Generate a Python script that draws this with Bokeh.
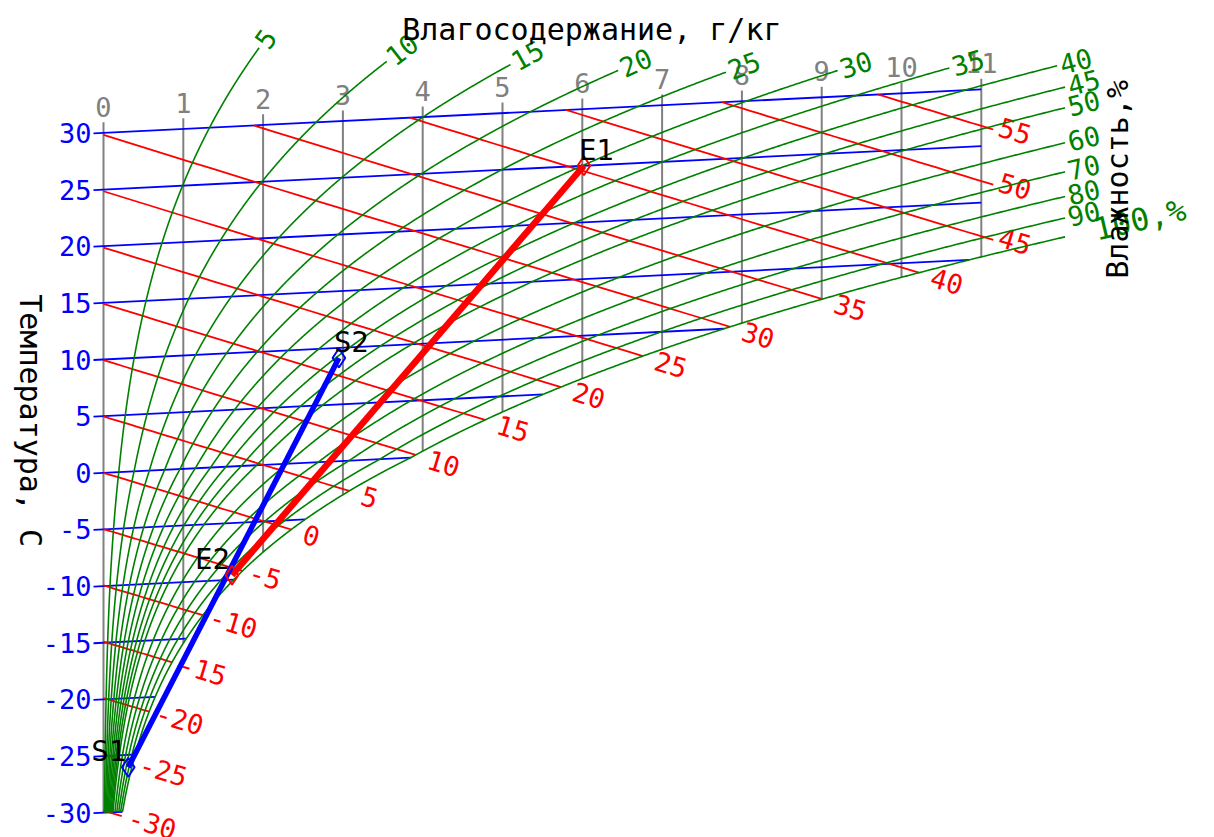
import math
import numpy as np
from bokeh.plotting import figure
from bokeh.models import Label
from bokeh.embed import file_html
from bokeh.resources import INLINE
from bokeh.core.properties import value

# ---------------- data ----------------
d_ticks = [0, 1, 2, 3, 4, 5, 6, 7, 8, 9, 10, 11]                 # moisture content, g/kg
t_values = [-30, -25, -20, -15, -10, -5, 0, 5, 10, 15, 20, 25, 30]  # isotherms, C
i_values = [-30, -25, -20, -15, -10, -5, 0, 5, 10, 15, 20, 25, 30,
            35, 40, 45, 50, 55]                                    # isenthalps, kJ/kg
rh_values = [5, 10, 15, 20, 25, 30, 35, 40, 45, 50, 60, 70, 80, 90, 100]  # relative humidity, %
rh_labels = ["5", "10", "15", "20", "25", "30", "35", "40", "45", "50",
             "60", "70", "80", "90", "100,%"]
rh_d_end = [1.95, 3.55, 5.1, 6.45, 7.8, 9.2, 10.6, 11.95, 12.05, 12.05,
            12.05, 12.05, 12.05, 12.05, 12.05]                     # where each RH curve stops, g/kg
pt_names = ["S1", "S2", "E1", "E2"]
pt_t = [-26.1, 9.1, 25.0, -9.6]
pt_d = [0.31, 2.95, 6.02, 1.61]
P_kpa = 99.3          # barometric pressure
T_MIN, T_MAX = -30, 30
D_MAX = 11

# ---------------- chart geometry / style ----------------
SKEW = 0.349          # chart ordinate = t + SKEW * d
SX, SY = 79.8, 11.33  # px per g/kg, px per chart unit
W, H = 1214, 837
RED_D_MAX = 11.15
FONT = value("DejaVu Sans Mono")
BLUE, RED, GREEN, GRAY = "#0000ff", "#ff0000", "#008000", "#808080"


def psat(t):
    t = np.asarray(t, dtype=float)
    return np.where(t >= 0,
                    611.2 * np.exp(17.62 * t / (243.12 + t)),
                    611.2 * np.exp(22.46 * t / (272.62 + t)))


def dsat(t, phi=1.0):
    ps = phi * psat(t)
    return 622.0 * ps / (P_kpa * 1000.0 - ps)


def enth(t, d):
    return 1.006 * t + d * (2.501 + 0.00186 * t)


def t_from_i(i, d):
    return (i - 2.501 * d) / (1.006 + 0.00186 * d)


def chartY(t, d):
    return t + SKEW * d


def solve(f, lo, hi, n=90):
    flo = f(lo)
    for _ in range(n):
        mid = 0.5 * (lo + hi)
        fm = f(mid)
        if (fm > 0) == (flo > 0):
            lo, flo = mid, fm
        else:
            hi = mid
    return 0.5 * (lo + hi)


def screen_angle(d1, y1, d2, y2):
    return math.atan2(SY * (y2 - y1), SX * (d2 - d1))


def shifted(d, y, ang, along, perp=0.0):
    """move a point by screen pixels along / perpendicular (up-left) to a direction"""
    dx = along * math.cos(ang) - perp * math.sin(ang)
    dy = along * math.sin(ang) + perp * math.cos(ang)
    return d + dx / SX, y + dy / SY


x0 = -103.0 / SX
y1 = 472.3 / SY
p = figure(width=W, height=H, x_range=(x0, x0 + W / SX), y_range=(y1 - H / SY, y1),
           output_backend="svg", toolbar_location=None, min_border=0,
           x_axis_location=None, y_axis_location=None, background_fill_color="white")
p.grid.visible = False
p.outline_line_color = None

# ---- gray moisture-content lines ----
gxs, gys, glx, gly, gll = [], [], [], [], []
for d in d_ticks:
    if d == 0:
        yb = T_MIN
    else:
        ts = solve(lambda t: float(dsat(t)) - d, -60, 60)
        yb = chartY(ts, d)
    yt = T_MAX + SKEW * d + 0.94
    gxs.append([d, d]); gys.append([yb, yt])
    glx.append(d); gly.append(yt + 15.5 / SY); gll.append(str(d))
p.multi_line(gxs, gys, line_color=GRAY, line_width=2)
p.text(glx, gly, text=gll, text_color=GRAY, text_font=FONT, text_font_size="27px",
       text_align="center", text_baseline="middle")

# ---- blue isotherms ----
bxs, bys = [], []
for t in t_values:
    de = min(float(dsat(t)), D_MAX)
    ds = [-10.0 / SX, de]
    bxs.append(ds); bys.append([chartY(t, x) for x in ds])
p.multi_line(bxs, bys, line_color=BLUE, line_width=1.8)
p.text([-12.0 / SX] * len(t_values), [float(t) for t in t_values], text=[str(t) for t in t_values],
       text_color=BLUE, text_font=FONT, text_font_size="27px",
       text_align="right", text_baseline="middle")

# ---- red isenthalps ----
rxs, rys, rlx, rly, rla, rll = [], [], [], [], [], []
for i in i_values:
    if i <= enth(T_MAX, 0):
        d_start = 0.0
    else:
        d_start = (i - 1.006 * T_MAX) / (2.501 + 0.00186 * T_MAX)
    tsat_i = solve(lambda t: enth(t, float(dsat(t))) - i, -60, 60)
    d_sat_i = float(dsat(tsat_i))
    d_end = min(d_sat_i, RED_D_MAX)
    ds = np.linspace(d_start, d_end, 30)
    ys = [chartY(t_from_i(i, x), x) for x in ds]
    rxs.append(list(ds)); rys.append(ys)
    ang = screen_angle(ds[-2], ys[-2], ds[-1], ys[-1])
    if d_sat_i > RED_D_MAX:
        lx, ly = shifted(ds[-1], ys[-1], ang, 5.0, 5.0)
    elif i < 0:
        lx, ly = shifted(ds[-1], ys[-1], ang, 7.0, 1.5)
    else:
        lx, ly = shifted(ds[-1], ys[-1], ang, 13.0, 0.0)
    rlx.append(lx); rly.append(ly)
    rla.append(ang); rll.append(str(i))
p.multi_line(rxs, rys, line_color=RED, line_width=1.8)
p.text(rlx, rly, text=rll, angle=rla, text_color=RED, text_font=FONT, text_font_size="27px",
       text_align="left", text_baseline="middle")

# ---- green relative humidity curves ----
tt = np.linspace(T_MIN, 50, 1601)
hxs, hys, hlx, hly, hla = [], [], [], [], []
for k, (phi, dend) in enumerate(zip(rh_values, rh_d_end)):
    f = phi / 100.0
    dd = dsat(tt, f)
    m = dd < dend
    te = solve(lambda t: float(dsat(t, f)) - dend, T_MIN, 60)
    ts = np.append(tt[m], te)
    ds = np.append(dd[m], dend)
    ys = ts + SKEW * ds
    hxs.append(list(ds)); hys.append(list(ys))
    tb = te - 0.6
    db = float(dsat(tb, f))
    ang = screen_angle(db, chartY(tb, db), dend, chartY(te, dend))
    gap = 30.0 if k == len(rh_values) - 1 else 3.0
    lx, ly = shifted(dend, chartY(te, dend), ang, gap, 0.0)
    hlx.append(lx); hly.append(ly); hla.append(ang)
p.multi_line(hxs, hys, line_color=GREEN, line_width=1.6)
p.text(hlx[:-1], hly[:-1], text=rh_labels[:-1], angle=hla[:-1], text_color=GREEN, text_font=FONT,
       text_font_size="27px", text_align="left", text_baseline="middle")
p.text(hlx[-1:], hly[-1:], text=rh_labels[-1:], angle=hla[-1:], text_color=GREEN, text_font=FONT,
       text_font_size="31px", text_align="left", text_baseline="middle")

# ---- processes ----
pY = [chartY(t, d) for t, d in zip(pt_t, pt_d)]
iS1, iS2, iE1, iE2 = (pt_names.index(n) for n in ("S1", "S2", "E1", "E2"))
p.line([pt_d[iE2], pt_d[iE1]], [pY[iE2], pY[iE1]], line_color=RED, line_width=6.5)
p.line([pt_d[iS1], pt_d[iS2]], [pY[iS1], pY[iS2]], line_color=BLUE, line_width=5.5)
p.scatter([pt_d[iE1], pt_d[iE2]], [pY[iE1], pY[iE2]], marker="diamond", size=19,
          fill_color=None, line_color=RED, line_width=2)
p.scatter([pt_d[iS1], pt_d[iS2]], [pY[iS1], pY[iS2]], marker="diamond", size=19,
          fill_color=None, line_color=BLUE, line_width=2)
left_pts = [iE1, iS2]
right_pts = [iE2, iS1]
p.text([pt_d[k] - 5.0 / SX for k in left_pts], [pY[k] + 16.0 / SY for k in left_pts],
       text=[pt_names[k] for k in left_pts], text_color="black", text_font=FONT,
       text_font_size="29px", text_align="left", text_baseline="middle")
p.text([pt_d[k] - 2.0 / SX for k in right_pts], [pY[k] + 16.5 / SY for k in right_pts],
       text=[pt_names[k] for k in right_pts], text_color="black", text_font=FONT,
       text_font_size="29px", text_align="right", text_baseline="middle")

# ---- titles ----
p.add_layout(Label(x=6.12, y=39.1, text="Влагосодержание, г/кг", text_font="DejaVu Sans Mono",
                   text_font_size="30px", text_color="black", text_align="center",
                   text_baseline="middle"))
p.add_layout(Label(x=-0.915, y=4.6, text="Температура, С", text_font="DejaVu Sans Mono",
                   text_font_size="30px", text_color="black", text_align="center",
                   text_baseline="middle", angle=-math.pi / 2))
p.add_layout(Label(x=12.71, y=25.9, text="Влажность,%", text_font="DejaVu Sans Mono",
                   text_font_size="30px", text_color="black", text_align="center",
                   text_baseline="middle", angle=math.pi / 2))

open("out.html", "w").write(file_html(p, INLINE))
